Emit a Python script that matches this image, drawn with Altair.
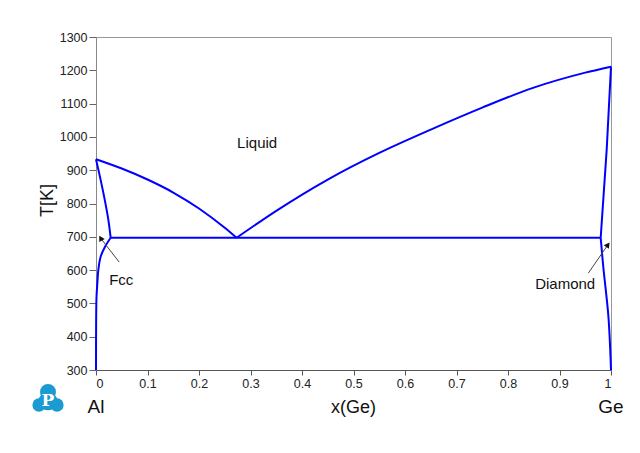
import altair as alt
import pandas as pd

# ---- phase boundary data ----
liq_left_x = [0.0, 0.05, 0.1, 0.15, 0.2, 0.25, 0.273]
liq_left_T = [933, 905, 872, 833, 785, 727, 697]

liq_right_x = [0.273, 0.35, 0.45, 0.55, 0.65, 0.75, 0.85, 0.95, 1.0]
liq_right_T = [697, 778, 872, 952, 1022, 1088, 1148, 1193, 1211]

fcc_sol_x = [0.0, 0.009, 0.017, 0.024, 0.0285]
fcc_sol_T = [933, 871, 811, 751, 697]

fcc_solvus_x = [0.0285, 0.0175, 0.009, 0.0045, 0.0026, 0.001, 0.0003, 0.0]
fcc_solvus_T = [697, 670, 640, 600, 560, 520, 450, 300]

eut_x = [0.0285, 0.98]
eut_T = [697, 697]

dia_sol_x = [1.0, 0.9916, 0.98]
dia_sol_T = [1211, 961, 697]

dia_solvus_x = [0.98, 0.985, 0.995, 1.0]
dia_solvus_T = [697, 610, 460, 300]

liquidus_segments = {
    "liq_left": (liq_left_x, liq_left_T),
    "liq_right": (liq_right_x, liq_right_T),
}
smooth_segments = {
    "fcc_sol": (fcc_sol_x, fcc_sol_T),
    "fcc_solvus": (fcc_solvus_x, fcc_solvus_T),
    "dia_solvus": (dia_solvus_x, dia_solvus_T),
}
straight_segments = {
    "eutectic": (eut_x, eut_T),
    "dia_sol": (dia_sol_x, dia_sol_T),
}


def to_frame(segments):
    rows = []
    for name, (xs, ts) in segments.items():
        for i, (xv, tv) in enumerate(zip(xs, ts)):
            rows.append({"seg": name, "i": i, "x": xv, "T": tv})
    return pd.DataFrame(rows)


df_liq = to_frame(liquidus_segments)
df_smooth = to_frame(smooth_segments)
df_straight = to_frame(straight_segments)

# phase labels
label_text = ["Fcc", "Diamond"]
label_x = [0.049, 0.911]
label_T = [570, 558]
liquid_text = ["Liquid"]
liquid_x = [0.274]
liquid_T = [982]

# arrows (tail -> head)
arrow_x1 = [0.045, 0.956]
arrow_T1 = [624, 591]
arrow_x2 = [0.009, 0.994]
arrow_T2 = [696, 676]
arrow_ang = [330, 35]

end_text = ["Al", "Ge"]
end_x = [0.0, 1.0]

FONT = "Liberation Sans"

xscale = alt.Scale(domain=[0, 1], nice=False, zero=False)
yscale = alt.Scale(domain=[300, 1300], nice=False, zero=False)

x_ticks = [round(v * 0.1, 1) for v in range(11)]
y_ticks = list(range(300, 1301, 100))

x_enc = alt.X("x:Q", scale=xscale, title="x(Ge)",
              axis=alt.Axis(values=x_ticks, tickCount=30, format=".1~f", tickSize=5,
                            labelPadding=2, labelOverlap=False, labelFont=FONT,
                            labelFontSize=12.5, labelColor="#222", domainColor="#555",
                            tickColor="#555", grid=False, titleFont=FONT, titleFontSize=18,
                            titleFontWeight="normal", titleColor="#111", titleX=257,
                            titleY=37, titleBaseline="middle", titleAlign="center"))
y_enc = alt.Y("T:Q", scale=yscale, title="T[K]",
              axis=alt.Axis(values=y_ticks, tickCount=30, format="d", tickSize=7,
                            labelPadding=2, labelOverlap=False, labelFont=FONT,
                            labelFontSize=12.5, labelColor="#222", domainColor="#888",
                            tickColor="#666", grid=False, titleFont=FONT, titleFontSize=18,
                            titleFontWeight="normal", titleColor="#111", titleX=-49,
                            titleY=163, titleAngle=-90, titleBaseline="middle",
                            titleAlign="center"))

lines_liq = alt.Chart(df_liq).mark_line(
    color="#0000ff", strokeWidth=2, interpolate="monotone").encode(
    x=x_enc, y=y_enc, detail="seg:N", order="i:Q")

lines_smooth = alt.Chart(df_smooth).mark_line(
    color="#0000ff", strokeWidth=2, interpolate="catmull-rom").encode(
    x=alt.X("x:Q", scale=xscale), y=alt.Y("T:Q", scale=yscale),
    detail="seg:N", order="i:Q")

lines_straight = alt.Chart(df_straight).mark_line(
    color="#0000ff", strokeWidth=2).encode(
    x=alt.X("x:Q", scale=xscale), y=alt.Y("T:Q", scale=yscale),
    detail="seg:N", order="i:Q")

lab_df = pd.DataFrame({"text": label_text, "x": label_x, "T": label_T})
labels = alt.Chart(lab_df).mark_text(font=FONT, fontSize=15, color="#111",
                                     align="center", baseline="middle").encode(
    x=alt.X("x:Q", scale=xscale), y=alt.Y("T:Q", scale=yscale), text="text:N")

liq_df = pd.DataFrame({"text": liquid_text, "x": liquid_x, "T": liquid_T})
liquid = alt.Chart(liq_df).mark_text(font=FONT, fontSize=15, color="#111",
                                     align="left", baseline="middle").encode(
    x=alt.X("x:Q", scale=xscale), y=alt.Y("T:Q", scale=yscale), text="text:N")

arr_df = pd.DataFrame({"x1": arrow_x1, "T1": arrow_T1, "x2": arrow_x2, "T2": arrow_T2,
                       "ang": arrow_ang})
arrow_lines = alt.Chart(arr_df).mark_rule(color="#444", strokeWidth=1).encode(
    x=alt.X("x1:Q", scale=xscale), y=alt.Y("T1:Q", scale=yscale),
    x2="x2:Q", y2="T2:Q")
arrow_heads = alt.Chart(arr_df).mark_point(shape="triangle-up", filled=True, color="#111",
                                           size=40, opacity=1).encode(
    x=alt.X("x2:Q", scale=xscale), y=alt.Y("T2:Q", scale=yscale),
    angle=alt.Angle("ang:Q", scale=None))

end_df = pd.DataFrame({"text": end_text, "x": end_x})
ends = alt.Chart(end_df).mark_text(font=FONT, fontSize=19, color="#111",
                                   align="center", baseline="middle").encode(
    x=alt.X("x:Q", scale=xscale), y=alt.value(370), text="text:N")

# logo (decorative)
one = alt.Data(values=[{"a": 1}])
LOGO = "#1b9bd1"


def blob(px, py, r):
    return alt.Chart(one).mark_circle(color=LOGO, opacity=1, size=3.1416 * r * r).encode(
        x=alt.value(px), y=alt.value(py))


logo = [
    blob(-48, 355, 9),
    blob(-57, 368, 7.5),
    blob(-39, 368, 7.5),
    blob(-48, 364, 10.5),
    alt.Chart(one).mark_text(text="P", font="DejaVu Serif", fontWeight="bold",
                             fontSize=17, color="white", align="center",
                             baseline="middle").encode(x=alt.value(-48), y=alt.value(364)),
]

chart = alt.layer(lines_liq, lines_smooth, lines_straight, arrow_lines, arrow_heads, labels,
                  liquid, ends, *logo).properties(
    width=515, height=333,
    padding={"left": 96, "top": 37, "right": 29, "bottom": 83},
    autosize=alt.AutoSizeParams(type="none"),
    background="white",
).configure_view(stroke="#999", strokeWidth=1)

chart.save("out.html", embed_options={"renderer": "svg", "actions": False})
